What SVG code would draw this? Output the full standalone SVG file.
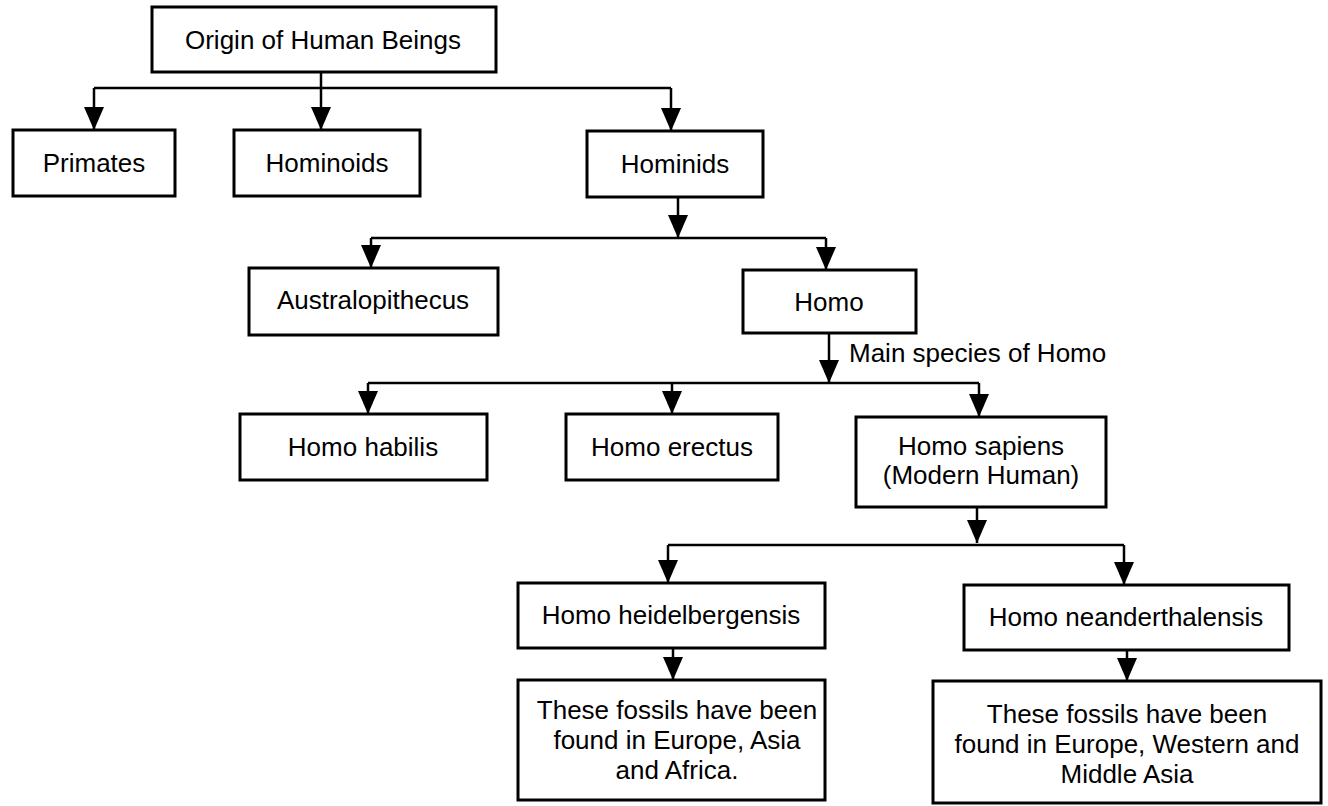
<svg xmlns="http://www.w3.org/2000/svg" width="1328" height="806" viewBox="0 0 1328 806">
<defs>
<marker id="ah" viewBox="0 0 23 20" refX="23" refY="10" markerWidth="23" markerHeight="20" markerUnits="userSpaceOnUse" orient="auto">
<path d="M0,0 L23,10 L0,20 z" fill="#000"/>
</marker>
<style>
.box{fill:#fff;stroke:#000;stroke-width:3}
.t{font-family:"Liberation Sans",Arial,sans-serif;font-size:26px;fill:#000;text-anchor:middle}
.l{font-family:"Liberation Sans",Arial,sans-serif;font-size:26px;fill:#000}
.c{fill:none;stroke:#000;stroke-width:2.5}
.a{fill:none;stroke:#000;stroke-width:2.5;marker-end:url(#ah)}
</style>
</defs>
<rect width="1328" height="806" fill="#fff"/>
<g id="connectors">
<line class="c" x1="94" y1="88" x2="671" y2="88"/>
<line class="a" x1="321" y1="72" x2="321" y2="130"/>
<line class="a" x1="94" y1="88" x2="94" y2="130"/>
<line class="a" x1="671" y1="88" x2="671" y2="131"/>
<line class="a" x1="678" y1="197" x2="678" y2="238"/>
<line class="c" x1="371" y1="238" x2="826" y2="238"/>
<line class="a" x1="371" y1="238" x2="371" y2="268"/>
<line class="a" x1="826" y1="238" x2="826" y2="270"/>
<line class="a" x1="829" y1="333" x2="829" y2="383"/>
<line class="c" x1="368" y1="383" x2="979" y2="383"/>
<line class="a" x1="368" y1="383" x2="368" y2="414"/>
<line class="a" x1="672" y1="383" x2="672" y2="414"/>
<line class="a" x1="979" y1="383" x2="979" y2="417"/>
<line class="a" x1="977" y1="507" x2="977" y2="543"/>
<line class="c" x1="668" y1="545" x2="1124" y2="545"/>
<line class="a" x1="668" y1="545" x2="668" y2="583"/>
<line class="a" x1="1124" y1="545" x2="1124" y2="585"/>
<line class="a" x1="673" y1="648" x2="673" y2="680"/>
<line class="a" x1="1127" y1="650" x2="1127" y2="681"/>
<text class="l" x="849" y="362">Main species of Homo</text>
</g>
<g id="origin"><rect class="box" x="152" y="7" width="344" height="65"/><text class="t" x="323" y="49">Origin of Human Beings</text></g>
<g id="primates"><rect class="box" x="13" y="130" width="162" height="66"/><text class="t" x="94" y="172">Primates</text></g>
<g id="hominoids"><rect class="box" x="234" y="130" width="186" height="66"/><text class="t" x="327" y="172">Hominoids</text></g>
<g id="hominids"><rect class="box" x="587" y="131" width="176" height="66"/><text class="t" x="675" y="173">Hominids</text></g>
<g id="australopithecus"><rect class="box" x="249" y="268" width="249" height="67"/><text class="t" x="373" y="309">Australopithecus</text></g>
<g id="homo"><rect class="box" x="743" y="270" width="173" height="63"/><text class="t" x="829" y="311">Homo</text></g>
<g id="homo-habilis"><rect class="box" x="240" y="414" width="247" height="66"/><text class="t" x="363" y="456">Homo habilis</text></g>
<g id="homo-erectus"><rect class="box" x="566" y="414" width="212" height="66"/><text class="t" x="672" y="456">Homo erectus</text></g>
<g id="homo-sapiens"><rect class="box" x="856" y="417" width="250" height="90"/><text class="t" x="981" y="455">Homo sapiens</text><text class="t" x="981" y="484">(Modern Human)</text></g>
<g id="homo-heidelbergensis"><rect class="box" x="518" y="583" width="307" height="65"/><text class="t" x="671" y="624">Homo heidelbergensis</text></g>
<g id="homo-neanderthalensis"><rect class="box" x="964" y="585" width="325" height="65"/><text class="t" x="1126" y="626">Homo neanderthalensis</text></g>
<g id="fossils-heidelbergensis"><rect class="box" x="518" y="680" width="307" height="120"/><text class="t" x="677" y="719">These fossils have been</text><text class="t" x="677" y="749">found in Europe, Asia</text><text class="t" x="677" y="779">and Africa.</text></g>
<g id="fossils-neanderthalensis"><rect class="box" x="933" y="681" width="388" height="122"/><text class="t" x="1127" y="723">These fossils have been</text><text class="t" x="1127" y="753">found in Europe, Western and</text><text class="t" x="1127" y="783">Middle Asia</text></g>
</svg>
